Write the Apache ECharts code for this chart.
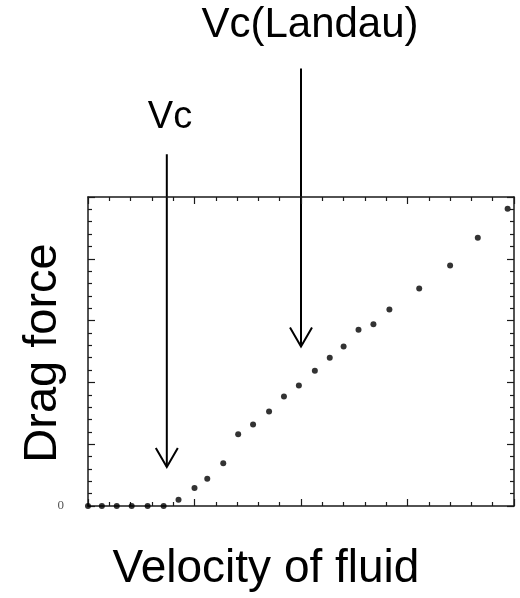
<!DOCTYPE html>
<html>
<head>
<meta charset="utf-8">
<script src="https://cdn.jsdelivr.net/npm/echarts@6/dist/echarts.min.js"></script>
<style>
html,body{margin:0;padding:0;background:#fff;}
#chart{width:520px;height:598px;}
</style>
</head>
<body>
<div id="chart"></div>
<script>
// Velocity of fluid (x) and drag force (y)
var velocity = [0, 0.13, 0.27, 0.41, 0.56, 0.71, 0.85, 1.00, 1.12, 1.27, 1.41, 1.55, 1.70, 1.84, 1.98, 2.13, 2.27, 2.40, 2.54, 2.68, 2.83, 3.11, 3.40, 3.66, 3.94];
var dragForce = [0, 0, 0, 0, 0, 0, 0.10, 0.29, 0.44, 0.69, 1.16, 1.32, 1.53, 1.77, 1.95, 2.19, 2.40, 2.58, 2.85, 2.94, 3.18, 3.52, 3.89, 4.34, 4.81];
var yTickLabels = ['0'];
// annotation arrows: x position in data units, start / end in data units
var arrowNames = ['Vc', 'Vc(Landau)'];
var arrowX = [0.74, 2.0];
var arrowFrom = [5.69, 7.08];
var arrowTo = [0.63, 2.58];

var chart = echarts.init(document.getElementById('chart'));
var axisColor = '#1a1a1a';
function xAx(pos) {
  return {
    type: 'value', min: 0, max: 4, interval: 1, position: pos,
    axisLine: {show: true, onZero: false, lineStyle: {color: axisColor, width: 1.5}},
    axisTick: {show: true, inside: true, length: 7, lineStyle: {color: axisColor, width: 1.2}},
    minorTick: {show: true, splitNumber: 5, length: 4, lineStyle: {color: axisColor, width: 1.2}},
    axisLabel: {show: false}, splitLine: {show: false}
  };
}
function yAx(pos, labels) {
  return {
    type: 'value', min: 0, max: 5, interval: 1, position: pos,
    axisLine: {show: true, onZero: false, lineStyle: {color: axisColor, width: 1.5}},
    axisTick: {show: true, inside: true, length: 7, lineStyle: {color: axisColor, width: 1.2}},
    minorTick: {show: true, splitNumber: 5, length: 4, lineStyle: {color: axisColor, width: 1.2}},
    axisLabel: labels ? {
      show: true, margin: 24, fontFamily: 'Liberation Serif', fontSize: 13, color: '#555',
      formatter: function (v) { return v === 0 ? yTickLabels[0] : ''; }
    } : {show: false},
    splitLine: {show: false}
  };
}
var points = velocity.map(function (v, i) { return [v, dragForce[i]]; });
chart.setOption({
  animation: false,
  grid: {left: 88, top: 197, right: 6, bottom: 92},
  xAxis: [xAx('bottom'), xAx('top')],
  yAxis: [yAx('left', true), yAx('right', false)],
  series: [{
    type: 'scatter', xAxisIndex: 0, yAxisIndex: 0, clip: false,
    symbolSize: 6, itemStyle: {color: '#000'},
    data: points
  }]
});

var g = [];
var font = 'Liberation Sans';
g.push({type: 'text', x: 310, y: 25, style: {text: arrowNames[1], fontFamily: font, fontSize: 42, fill: '#000', align: 'center', verticalAlign: 'middle'}});
g.push({type: 'text', x: 170, y: 118, style: {text: arrowNames[0], fontFamily: font, fontSize: 38, fill: '#000', align: 'center', verticalAlign: 'middle'}});
g.push({type: 'text', x: 266, y: 569, style: {text: 'Velocity of fluid', fontFamily: font, fontSize: 46, fill: '#000', align: 'center', verticalAlign: 'middle'}});
g.push({type: 'text', x: 43, y: 353, rotation: Math.PI / 2, style: {text: 'Drag force', fontFamily: font, fontSize: 47, fill: '#000', align: 'center', verticalAlign: 'middle'}});
for (var i = 0; i < arrowX.length; i++) {
  var p0 = chart.convertToPixel({xAxisIndex: 0, yAxisIndex: 0}, [arrowX[i], arrowFrom[i]]);
  var p1 = chart.convertToPixel({xAxisIndex: 0, yAxisIndex: 0}, [arrowX[i], arrowTo[i]]);
  g.push({type: 'line', shape: {x1: p0[0], y1: p0[1], x2: p1[0], y2: p1[1]}, style: {stroke: '#000', lineWidth: 2}});
  g.push({type: 'polyline', shape: {points: [[p1[0] - 11, p1[1] - 19], [p1[0], p1[1]], [p1[0] + 11, p1[1] - 19]]}, style: {stroke: '#000', lineWidth: 2, fill: null}});
}
chart.setOption({graphic: g});
</script>
</body>
</html>
